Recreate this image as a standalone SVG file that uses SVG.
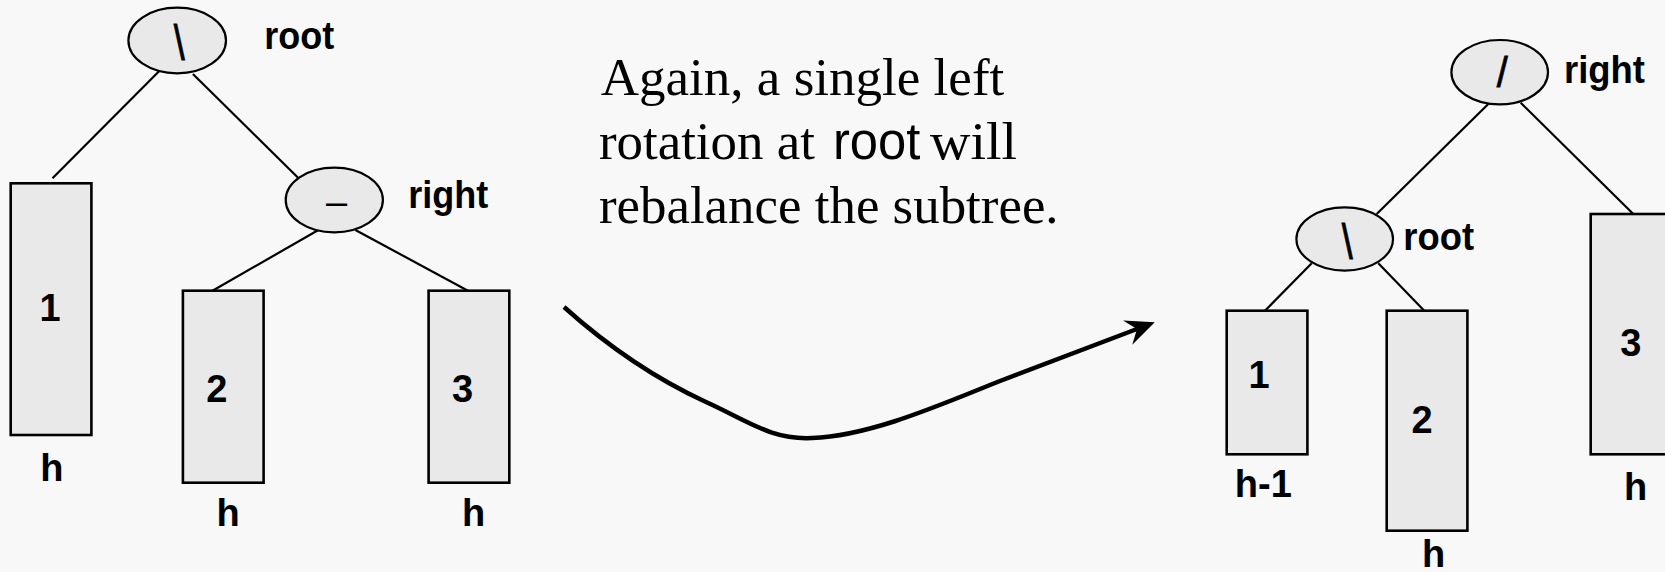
<svg xmlns="http://www.w3.org/2000/svg" width="1665" height="572" viewBox="0 0 1665 572">
<style>
.bg{fill:#f8f8f8}
.nd{fill:#e9e9e9;stroke:#000;stroke-width:2.2}
.bx{fill:#e9e9e9;stroke:#000;stroke-width:2.6}
.ln{stroke:#000;stroke-width:2.2;fill:none}
.lb{font-family:"Liberation Sans",Arial,sans-serif;font-weight:bold;font-size:38px;fill:#000}
.sym{font-family:"Liberation Sans",Arial,sans-serif;font-size:50px;fill:#000;stroke:#000;stroke-width:0.8}
.sr{font-family:"Liberation Serif","Times New Roman",serif;font-size:53px;fill:#000}
.ss{font-family:"Liberation Sans",Arial,sans-serif;font-size:51px;fill:#000}
.arr{stroke:#000;stroke-width:4.5;fill:none}
</style>
<defs>
<marker id="ah" markerUnits="userSpaceOnUse" orient="auto" markerWidth="40" markerHeight="40" refX="0" refY="0" overflow="visible">
<path d="M 19 0 L -10 -13 L 0 0 L -10 13 Z" fill="#000"/>
</marker>
</defs>
<rect class="bg" x="0" y="0" width="1665" height="572"/>

<g id="connectors">
<line class="ln" x1="162.5" y1="67.7" x2="52.5" y2="178.3"/>
<line class="ln" x1="192.9" y1="74" x2="305.4" y2="185"/>
<line class="ln" x1="323.2" y1="227.3" x2="212.5" y2="290.7"/>
<line class="ln" x1="355.4" y1="230" x2="467.9" y2="290.7"/>
<line class="ln" x1="1488.3" y1="104" x2="1376.7" y2="214"/>
<line class="ln" x1="1520.7" y1="102.7" x2="1633.3" y2="214"/>
<line class="ln" x1="1311.7" y1="263.3" x2="1265" y2="310.7"/>
<line class="ln" x1="1378.3" y1="263.3" x2="1424.3" y2="310.7"/>
<path class="arr" d="M 564 307 C 612 350, 658 380, 706 402 C 750 422, 772 440, 812 438 C 870 436, 940 405, 1000 381 L 1137 329" marker-end="url(#ah)"/>
</g>

<g id="left-root">
<ellipse class="nd" cx="177.2" cy="40.5" rx="48.8" ry="32.8"/>
<text class="sym" x="179.2" y="60" text-anchor="middle" textLength="11" lengthAdjust="spacingAndGlyphs">\</text>
<text class="lb" x="264.3" y="49" textLength="70" lengthAdjust="spacingAndGlyphs">root</text>
</g>
<g id="left-right">
<ellipse class="nd" cx="334.3" cy="200" rx="48.6" ry="32.3"/>
<text class="lb" x="336.5" y="214.5" text-anchor="middle" style="font-weight:normal">–</text>
<text class="lb" x="408.2" y="208.3" textLength="80" lengthAdjust="spacingAndGlyphs">right</text>
</g>
<g id="left-box1">
<rect class="bx" x="10.7" y="183.3" width="80.7" height="251.7"/>
<text class="lb" x="50" y="321" text-anchor="middle">1</text>
<text class="lb" x="51.8" y="480.7" text-anchor="middle">h</text>
</g>
<g id="left-box2">
<rect class="bx" x="182.9" y="290.7" width="80.7" height="192"/>
<text class="lb" x="216.8" y="401.7" text-anchor="middle">2</text>
<text class="lb" x="228" y="525.7" text-anchor="middle">h</text>
</g>
<g id="left-box3">
<rect class="bx" x="428.6" y="290.7" width="80.7" height="192"/>
<text class="lb" x="462.5" y="401.7" text-anchor="middle">3</text>
<text class="lb" x="473.6" y="525.7" text-anchor="middle">h</text>
</g>

<g id="caption">
<text class="sr" x="600.7" y="95" textLength="403.6" lengthAdjust="spacingAndGlyphs">Again, a single left</text>
<text class="sr" x="598.9" y="159.3" textLength="216" lengthAdjust="spacingAndGlyphs">rotation at</text>
<text class="ss" x="832.9" y="159.3" textLength="87.5" lengthAdjust="spacingAndGlyphs">root</text>
<text class="sr" x="930" y="159.3" textLength="87" lengthAdjust="spacingAndGlyphs">will</text>
<text class="sr" x="598.9" y="222.7" textLength="459.7" lengthAdjust="spacingAndGlyphs">rebalance the subtree.</text>
</g>

<g id="right-right">
<ellipse class="nd" cx="1499.7" cy="72.2" rx="48.3" ry="32.2"/>
<text class="sym" x="1502.3" y="87" text-anchor="middle" style="font-size:42px" textLength="11" lengthAdjust="spacingAndGlyphs">/</text>
<text class="lb" x="1564" y="83.3" textLength="81" lengthAdjust="spacingAndGlyphs">right</text>
</g>
<g id="right-root">
<ellipse class="nd" cx="1344.7" cy="239" rx="48.3" ry="31.7"/>
<text class="sym" x="1347.2" y="259.3" text-anchor="middle" textLength="11" lengthAdjust="spacingAndGlyphs">\</text>
<text class="lb" x="1403.3" y="250" textLength="70.7" lengthAdjust="spacingAndGlyphs">root</text>
</g>
<g id="right-box1">
<rect class="bx" x="1226.7" y="310.7" width="80.7" height="143.6"/>
<text class="lb" x="1259" y="387.7" text-anchor="middle">1</text>
<text class="lb" x="1263.3" y="497.3" text-anchor="middle">h-1</text>
</g>
<g id="right-box2">
<rect class="bx" x="1386.7" y="310.7" width="80.7" height="220"/>
<text class="lb" x="1422" y="432.7" text-anchor="middle">2</text>
<text class="lb" x="1433.5" y="567" text-anchor="middle">h</text>
</g>
<g id="right-box3">
<rect class="bx" x="1590.7" y="214" width="80.7" height="240.3"/>
<text class="lb" x="1630.8" y="355.7" text-anchor="middle">3</text>
<text class="lb" x="1635.5" y="500" text-anchor="middle">h</text>
</g>
</svg>
